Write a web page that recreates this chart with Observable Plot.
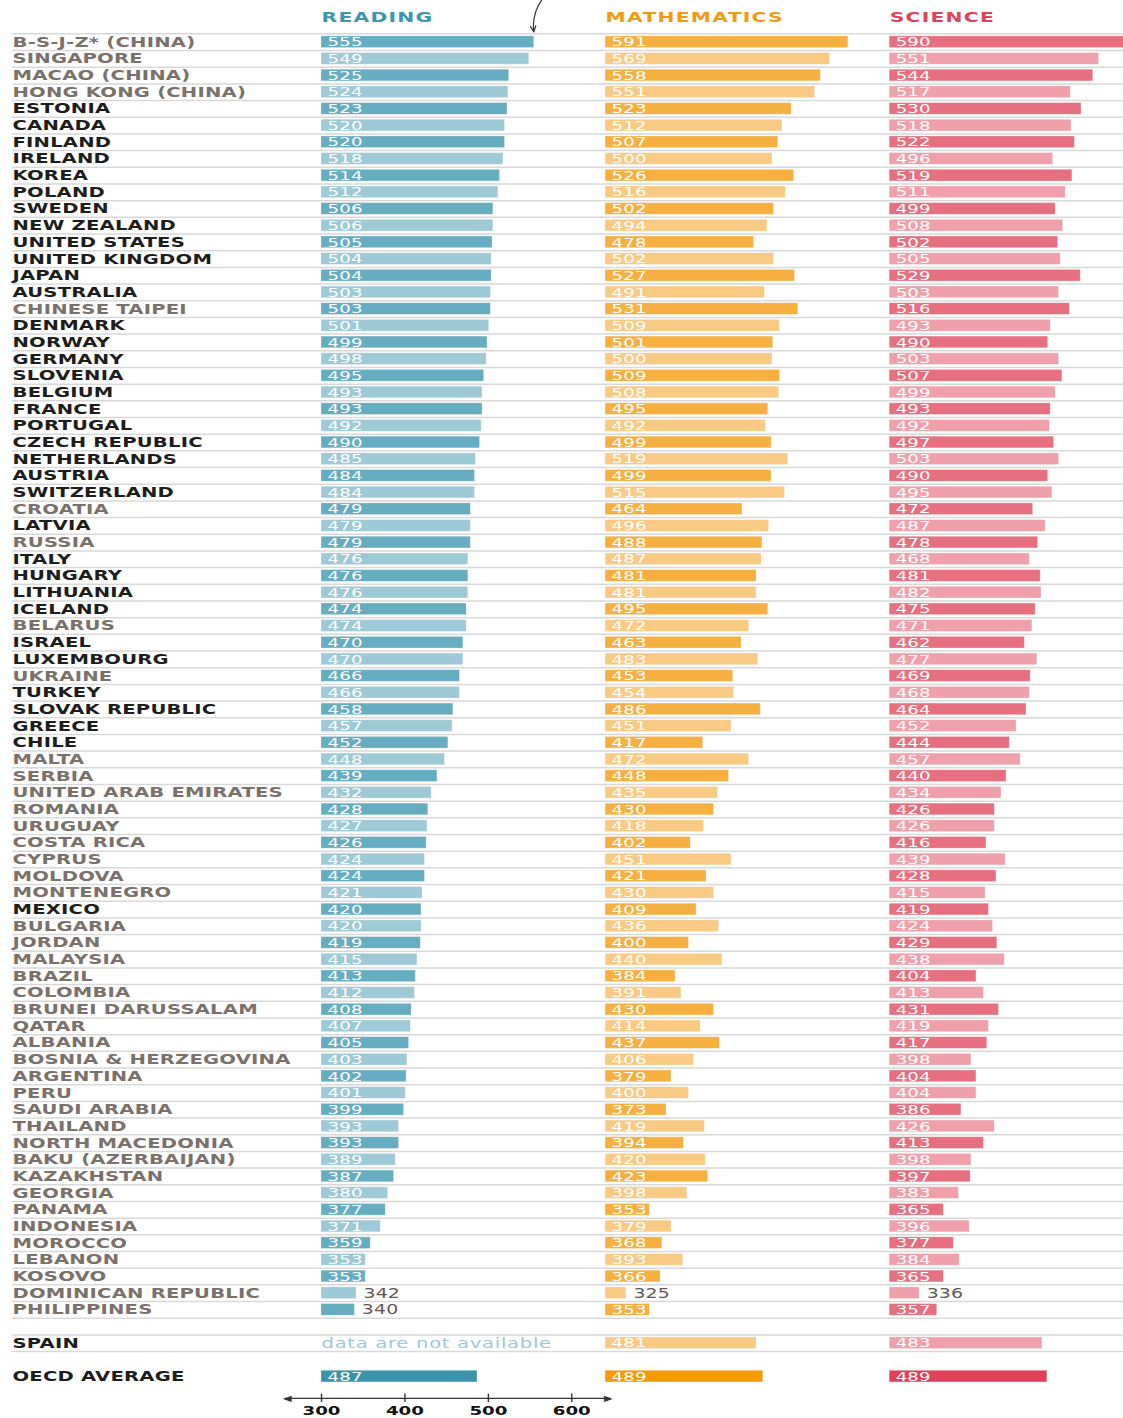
<!DOCTYPE html>
<html>
<head>
<meta charset="utf-8">
<script src="https://cdn.jsdelivr.net/npm/d3@7"></script>
<script src="https://cdn.jsdelivr.net/npm/@observablehq/plot@0.6"></script>
<style>
  html, body { margin: 0; padding: 0; background: #fff; overflow: hidden; }
  #chart svg { display: block; }
</style>
</head>
<body>
<div id="chart"></div>
<script>
const countries = [
  "B-S-J-Z* (CHINA)", "SINGAPORE", "MACAO (CHINA)", "HONG KONG (CHINA)", "ESTONIA", "CANADA",
  "FINLAND", "IRELAND", "KOREA", "POLAND", "SWEDEN", "NEW ZEALAND", "UNITED STATES",
  "UNITED KINGDOM", "JAPAN", "AUSTRALIA", "CHINESE TAIPEI", "DENMARK", "NORWAY", "GERMANY",
  "SLOVENIA", "BELGIUM", "FRANCE", "PORTUGAL", "CZECH REPUBLIC", "NETHERLANDS", "AUSTRIA",
  "SWITZERLAND", "CROATIA", "LATVIA", "RUSSIA", "ITALY", "HUNGARY", "LITHUANIA", "ICELAND",
  "BELARUS", "ISRAEL", "LUXEMBOURG", "UKRAINE", "TURKEY", "SLOVAK REPUBLIC", "GREECE", "CHILE",
  "MALTA", "SERBIA", "UNITED ARAB EMIRATES", "ROMANIA", "URUGUAY", "COSTA RICA", "CYPRUS",
  "MOLDOVA", "MONTENEGRO", "MEXICO", "BULGARIA", "JORDAN", "MALAYSIA", "BRAZIL", "COLOMBIA",
  "BRUNEI DARUSSALAM", "QATAR", "ALBANIA", "BOSNIA & HERZEGOVINA", "ARGENTINA", "PERU",
  "SAUDI ARABIA", "THAILAND", "NORTH MACEDONIA", "BAKU (AZERBAIJAN)", "KAZAKHSTAN", "GEORGIA",
  "PANAMA", "INDONESIA", "MOROCCO", "LEBANON", "KOSOVO", "DOMINICAN REPUBLIC", "PHILIPPINES"
];
const reading = [
  555, 549, 525, 524, 523, 520, 520, 518, 514, 512, 506, 506, 505, 504, 504, 503, 503, 501, 499, 498,
  495, 493, 493, 492, 490, 485, 484, 484, 479, 479, 479, 476, 476, 476, 474, 474, 470, 470, 466, 466,
  458, 457, 452, 448, 439, 432, 428, 427, 426, 424, 424, 421, 420, 420, 419, 415, 413, 412, 408, 407,
  405, 403, 402, 401, 399, 393, 393, 389, 387, 380, 377, 371, 359, 353, 353, 342, 340
];
const mathematics = [
  591, 569, 558, 551, 523, 512, 507, 500, 526, 516, 502, 494, 478, 502, 527, 491, 531, 509, 501, 500,
  509, 508, 495, 492, 499, 519, 499, 515, 464, 496, 488, 487, 481, 481, 495, 472, 463, 483, 453, 454,
  486, 451, 417, 472, 448, 435, 430, 418, 402, 451, 421, 430, 409, 436, 400, 440, 384, 391, 430, 414,
  437, 406, 379, 400, 373, 419, 394, 420, 423, 398, 353, 379, 368, 393, 366, 325, 353
];
const science = [
  590, 551, 544, 517, 530, 518, 522, 496, 519, 511, 499, 508, 502, 505, 529, 503, 516, 493, 490, 503,
  507, 499, 493, 492, 497, 503, 490, 495, 472, 487, 478, 468, 481, 482, 475, 471, 462, 477, 469, 468,
  464, 452, 444, 457, 440, 434, 426, 426, 416, 439, 428, 415, 419, 424, 429, 438, 404, 413, 431, 419,
  417, 398, 404, 404, 386, 426, 413, 398, 397, 383, 365, 396, 377, 384, 365, 336, 357
];
// OECD members are written in black, partner economies in grey
const oecdMembers = [
  "ESTONIA", "CANADA", "FINLAND", "IRELAND", "KOREA", "POLAND", "SWEDEN", "NEW ZEALAND",
  "UNITED STATES", "UNITED KINGDOM", "JAPAN", "AUSTRALIA", "DENMARK", "NORWAY", "GERMANY",
  "SLOVENIA", "BELGIUM", "FRANCE", "PORTUGAL", "CZECH REPUBLIC", "NETHERLANDS", "AUSTRIA",
  "SWITZERLAND", "LATVIA", "ITALY", "HUNGARY", "LITHUANIA", "ICELAND", "ISRAEL", "LUXEMBOURG",
  "TURKEY", "SLOVAK REPUBLIC", "GREECE", "CHILE", "MEXICO", "SPAIN", "OECD AVERAGE"
];
const subjects = ["READING", "MATHEMATICS", "SCIENCE"];
const spainScores = [null, 481, 483];
const oecdAverage = [487, 489, 489];
const axisTicks = [300, 400, 500, 600];
const notAvailableText = "data are not available";

// ---- styling / layout constants ----
const headerColors = ["#3a97ad", "#f39a12", "#e0425a"];
const darkColors = ["#67adc1", "#f6b042", "#e6707f"];
const lightColors = ["#9dcad6", "#f9ca84", "#efa0aa"];
const oecdColors = ["#3a95ab", "#f49a05", "#e04058"];
const baseScore = 300;
const panelShift = 340.5;       // score units between panels
const pxPerPoint = 0.8343;
const W = 1123, H = 1418;
const barLeftPx = 321, labelLeftPx = 12;
const stretch = 1.4;            // horizontal stretch of the type
const spacing = {names: 0.15, headers: 0.9, values: 0.1, outside: 0.1, missing: 0.5};

// ---- build tables ----
const rowsMeta = countries.map((name, i) => ({
  name, row: i, shade: i % 2 ? "light" : "dark",
  scores: [reading[i], mathematics[i], science[i]]
}));
rowsMeta.push({name: "SPAIN", row: countries.length + 1, shade: "light", scores: spainScores});
rowsMeta.push({name: "OECD AVERAGE", row: countries.length + 3, shade: "oecd", scores: oecdAverage});
rowsMeta.forEach(r => r.member = oecdMembers.includes(r.name));

const bars = [];
const missing = [];
rowsMeta.forEach(r => subjects.forEach((s, k) => {
  const v = r.scores[k];
  const offset = k * panelShift;
  if (v == null) { missing.push({row: r.row, k, offset}); return; }
  const color = r.shade === "oecd" ? oecdColors[k] : r.shade === "light" ? lightColors[k] : darkColors[k];
  bars.push({row: r.row, k, offset, value: v, color, inside: v >= 350});
}));

const gridRows = d3.range(rowsMeta[rowsMeta.length - 2].row + 2).map(i => i - 0.5);
const lastRow = rowsMeta[rowsMeta.length - 1].row;
const axisRow = lastRow + 1.3;

const xMin = baseScore - (barLeftPx - labelLeftPx) / pxPerPoint;
const xMax = baseScore + (W - barLeftPx) / pxPerPoint;
const rowPx = 16.68, firstRowPx = 41.7;

const chart = Plot.plot({
  width: W,
  height: H,
  marginLeft: labelLeftPx,
  marginRight: 0,
  marginTop: 0,
  marginBottom: 0,
  style: {fontFamily: "DejaVu Sans, sans-serif", background: "#fff", overflow: "hidden"},
  x: {domain: [xMin, xMax], axis: null},
  y: {domain: [0, lastRow], range: [firstRowPx, firstRowPx + lastRow * rowPx], axis: null},
  marks: [
    Plot.ruleY(gridRows, {stroke: "#d9d9d9", strokeWidth: 1.5}),
    Plot.rectX(bars, {
      x1: d => d.offset + baseScore, x2: d => d.offset + d.value,
      y1: d => d.row - 0.35, y2: d => d.row + 0.35,
      fill: "color", stroke: "#ffffff", strokeOpacity: 0.35, strokeWidth: 0.8
    }),
    Plot.text(bars.filter(d => d.inside), {
      ariaDescription: "values",
      x: d => d.offset + baseScore, y: "row", text: d => String(d.value),
      dx: 6, textAnchor: "start", fill: "white", fontSize: 13
    }),
    Plot.text(bars.filter(d => !d.inside), {
      ariaDescription: "outside",
      x: d => d.offset + d.value, y: "row", text: d => String(d.value),
      dx: 7, textAnchor: "start", fill: "#5f5853", fontSize: 13.5
    }),
    Plot.text(missing, {
      ariaDescription: "missing",
      x: d => d.offset + baseScore, y: "row", text: () => notAvailableText,
      textAnchor: "start", fill: lightColors[0], fontSize: 14
    }),
    Plot.text(rowsMeta, {
      ariaDescription: "names",
      y: "row", text: "name", frameAnchor: "left", textAnchor: "start",
      fill: d => d.member ? "#1d1d1b" : "#7b716b", fontWeight: "bold", fontSize: 14
    }),
    Plot.text(subjects, {
      ariaDescription: "headers",
      x: (d, k) => k * panelShift + baseScore, y: () => -1.48, text: d => d,
      textAnchor: "start", fill: (d, k) => headerColors[k], fontWeight: "bold", fontSize: 14.5
    }),
    // annotation arrow pointing at the top score
    Plot.arrow([{x1: reading[0] + 10, y1: -2.6, x2: reading[0] - 0.5, y2: -0.62}], {
      x1: "x1", y1: "y1", x2: "x2", y2: "y2", bend: -22, stroke: "#333", strokeWidth: 1.2,
      headLength: 8, headAngle: 50
    }),
    // bottom axis for the reading scale
    Plot.ruleY([axisRow], {x1: axisTicks[0] - 44, x2: axisTicks[axisTicks.length - 1] + 47, stroke: "#333", strokeWidth: 1.2}),
    Plot.ruleX(axisTicks, {y1: axisRow - 0.25, y2: axisRow + 0.25, stroke: "#333", strokeWidth: 1.4}),
    Plot.text(["◀"], {x: () => axisTicks[0] - 46, y: () => axisRow, textAnchor: "start", fill: "#333", fontSize: 8}),
    Plot.text(["▶"], {x: () => axisTicks[axisTicks.length - 1] + 49, y: () => axisRow, textAnchor: "end", fill: "#333", fontSize: 8}),
    Plot.text(axisTicks, {x: d => d, y: () => axisRow + 0.78, text: d => String(d), textAnchor: "middle", fill: "#111", fontWeight: "bold", fontSize: 13})
  ]
});

// letter spacing per text group
Object.entries(spacing).forEach(([key, ls]) => {
  chart.querySelectorAll(`g[aria-description="${key}"] text`).forEach(t => t.setAttribute("letter-spacing", ls));
});
// widen the type horizontally, as in the original artwork
chart.querySelectorAll("text").forEach(t => {
  const tr = t.getAttribute("transform");
  t.setAttribute("transform", (tr ? tr + " " : "") + `scale(${stretch},1)`);
});
document.getElementById("chart").appendChild(chart);
</script>
</body>
</html>
